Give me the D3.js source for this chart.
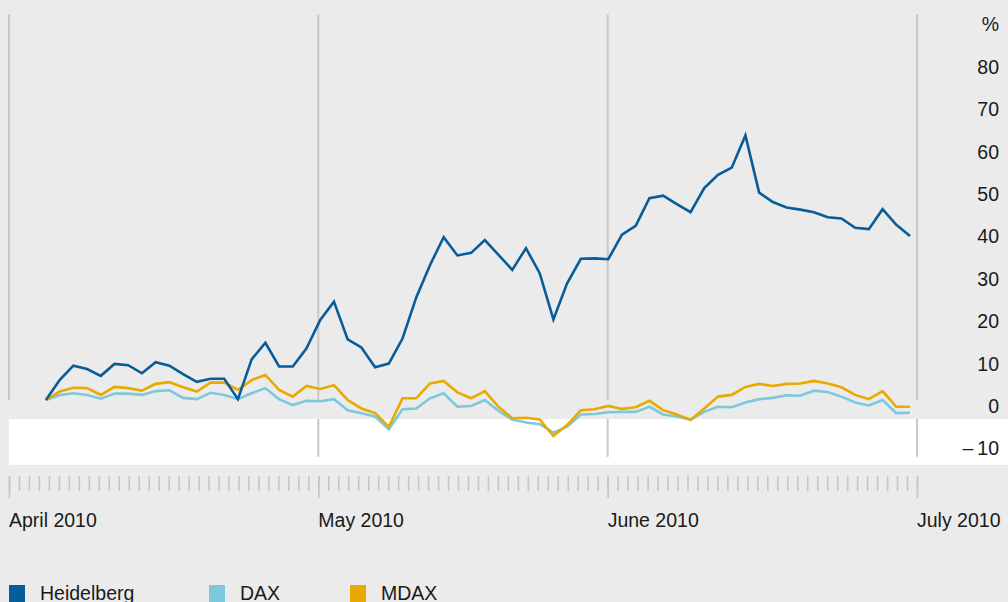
<!DOCTYPE html>
<html>
<head>
<meta charset="utf-8">
<script src="https://cdn.jsdelivr.net/npm/d3@7"></script>
<style>
  html, body { margin: 0; padding: 0; background: #ebebeb; }
  svg { display: block; }
  text { font-family: "Liberation Sans", Arial, sans-serif; fill: #1a1a1a; }
</style>
</head>
<body>
<svg id="chart" width="1008" height="602"></svg>
<script>
// ---- data (percent change, indexed to start) ----
const heidelberg = [0, 4.7, 8.1, 7.3, 5.7, 8.5, 8.2, 6.3, 8.9, 8.1, 6.1, 4.3, 5.0, 5.0, 0.2, 9.6,
  13.5, 7.9, 7.9, 12.2, 18.9, 23.2, 14.3, 12.4, 7.7, 8.6, 14.5, 24.2, 31.8, 38.4, 34.1, 34.7,
  37.7, 34.2, 30.7, 35.8, 29.9, 19.0, 27.5, 33.3, 33.4, 33.2, 39.0, 41.1, 47.6, 48.2, 46.2, 44.3,
  50.0, 53.1, 54.8, 62.4, 48.9, 46.7, 45.4, 44.9, 44.3, 43.1, 42.8, 40.6, 40.3, 45.0, 41.3, 38.7];
const dax = [0, 1.2, 1.6, 1.2, 0.3, 1.5, 1.5, 1.2, 2.1, 2.3, 0.5, 0.2, 1.7, 1.2, 0.2, 1.6,
  2.8, 0.2, -1.2, -0.2, -0.3, 0.2, -2.4, -3.1, -3.9, -6.9, -2.2, -2.0, 0.4, 1.6, -1.6, -1.4,
  0.0, -2.6, -4.6, -5.3, -5.7, -7.7, -6.3, -3.4, -3.3, -2.9, -2.8, -2.8, -1.6, -3.4, -3.9, -4.6,
  -2.8, -1.6, -1.7, -0.6, 0.2, 0.5, 1.1, 1.0, 2.2, 1.9, 0.8, -0.6, -1.3, 0.0, -3.1, -3.0];
const mdax = [0, 2.0, 2.9, 2.8, 1.2, 3.1, 2.8, 2.2, 3.8, 4.2, 3.0, 2.0, 4.1, 4.1, 2.4, 4.7,
  5.9, 2.4, 0.8, 3.3, 2.6, 3.5, 0.0, -2.0, -3.1, -6.3, 0.4, 0.4, 3.9, 4.5, 1.8, 0.4,
  2.1, -1.6, -4.3, -4.2, -4.6, -8.5, -5.9, -2.4, -2.2, -1.4, -2.1, -1.7, -0.2, -2.4, -3.4, -4.7,
  -2.0, 0.8, 1.2, 3.1, 3.8, 3.3, 3.8, 3.9, 4.5, 3.9, 3.0, 1.2, 0.2, 2.1, -1.6, -1.6];

const seriesNames = ["Heidelberg", "DAX", "MDAX"];
const seriesColors = ["#075c99", "#7dc8dc", "#e8aa00"];

const monthLabels = ["April 2010", "May 2010", "June 2010", "July 2010"];
const monthSlots = [0, 31, 60, 91];           // positions of month boundaries on the day-slot axis
const yTickValues = [80, 70, 60, 50, 40, 30, 20, 10, 0, -10];
const unitLabel = "%";

// ---- scales ----
const svg = d3.select("#chart");
const x = d3.scaleLinear().domain([0, 91]).range([9, 917]);
const xi = d3.scaleLinear().domain([0, heidelberg.length - 1]).range([x(3.7), x(90.3)]);
const y = d3.scaleLinear().domain([0, 80]).range([400, 400 - 4.24 * 80]);

// white band below zero
svg.append("rect")
  .attr("x", x(0)).attr("y", y(-4.5))
  .attr("width", 1008 - x(0)).attr("height", y(-15.3) - y(-4.5))
  .attr("fill", "#ffffff");

// vertical month grid lines
const grid = svg.append("g").attr("stroke", "#c8c8c8").attr("stroke-width", 2);
monthSlots.forEach((s, k) => {
  grid.append("line").attr("x1", x(s)).attr("x2", x(s))
    .attr("y1", y(91)).attr("y2", y(0));
  if (k > 0) {
    grid.append("line").attr("x1", x(s)).attr("x2", x(s))
      .attr("y1", y(-4.5)).attr("y2", y(-13.4));
  }
});

// bottom tick ruler (one tick per day slot, long ticks at months)
const ruler = svg.append("g").attr("transform", "translate(0,476)");
const minorAxis = d3.axisBottom(x).tickValues(d3.range(0, 92)).tickSize(15).tickFormat("");
ruler.call(minorAxis);
const majorAxis = d3.axisBottom(x).tickValues(monthSlots).tickSize(22).tickFormat("");
ruler.append("g").call(majorAxis);
ruler.selectAll(".domain").remove();
ruler.selectAll(".tick line").attr("stroke", "#c6c6c6").attr("stroke-width", 1.6);

// month labels
svg.append("g").selectAll("text").data(monthLabels).join("text")
  .attr("x", (d, i) => x(monthSlots[i]))
  .attr("y", 527)
  .attr("font-size", 19.5)
  .text(d => d);

// y labels (right side)
const yl = svg.append("g");
yl.selectAll("text").data(yTickValues).join("text")
  .attr("x", 999).attr("y", d => y(d) + 6)
  .attr("text-anchor", "end").attr("dominant-baseline", "central")
  .attr("font-size", 19.5)
  .text(d => d < 0 ? "–\u2009" + Math.abs(d) : d);
yl.append("text").attr("x", 999).attr("y", y(90) + 6)
  .attr("text-anchor", "end").attr("dominant-baseline", "central")
  .attr("font-size", 19.5).text(unitLabel);

// lines
const line = d3.line().x((d, i) => xi(i)).y(d => y(d)).curve(d3.curveLinear);
const allSeries = [heidelberg, dax, mdax];
[1, 2, 0].forEach(k => {
  svg.append("path").datum(allSeries[k])
    .attr("fill", "none").attr("stroke", seriesColors[k])
    .attr("stroke-width", 2.6).attr("stroke-linejoin", "miter")
    .attr("d", line);
});

// legend
const legendX = [9, 209, 350];
const lg = svg.append("g");
seriesNames.forEach((n, k) => {
  lg.append("rect").attr("x", legendX[k]).attr("y", 585).attr("width", 16).attr("height", 17)
    .attr("fill", seriesColors[k]);
  lg.append("text").attr("x", legendX[k] + 31).attr("y", 599.5)
    .attr("font-size", 19.5).text(n);
});
</script>
</body>
</html>
